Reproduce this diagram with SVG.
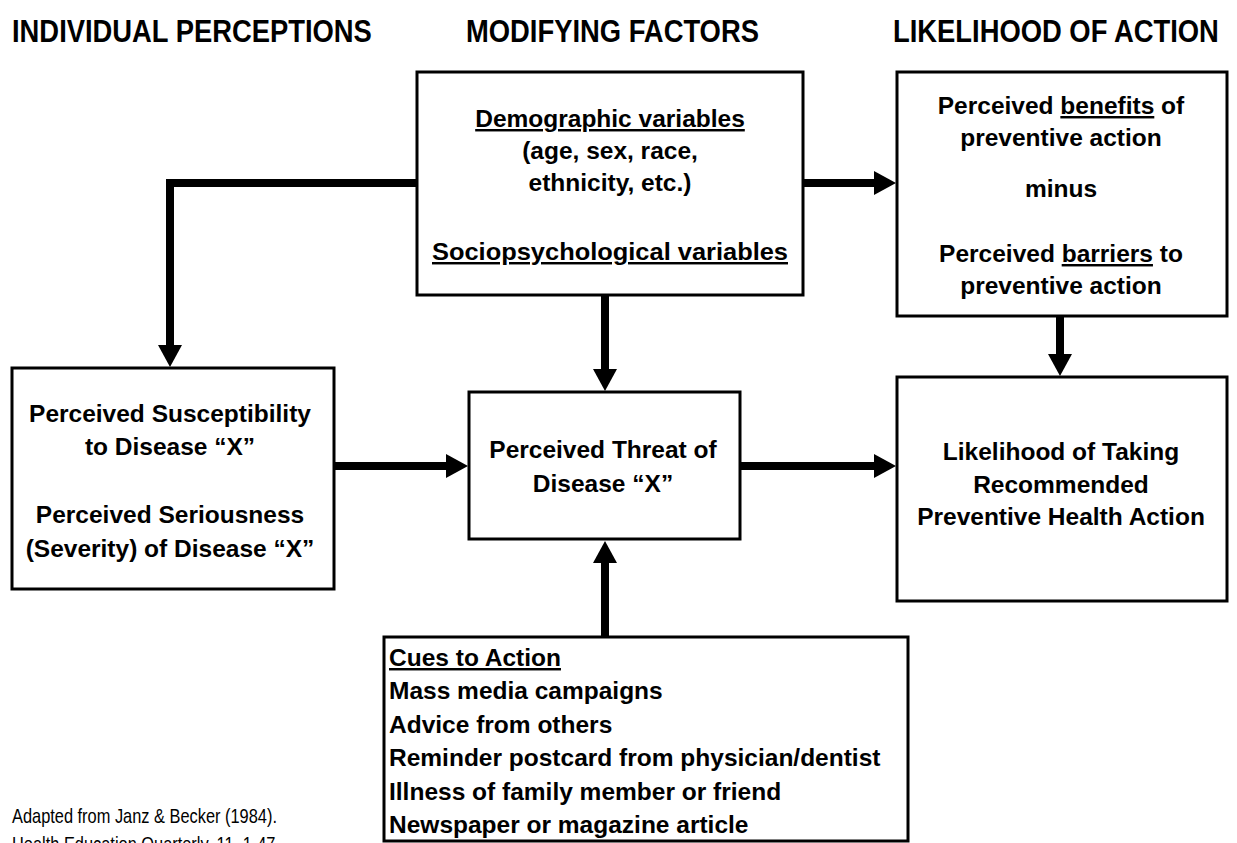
<svg xmlns="http://www.w3.org/2000/svg" width="1237" height="843" viewBox="0 0 1237 843">
<style>
.bg{fill:#fff}
.box{fill:#fff;stroke:#000;stroke-width:3}
.h{font-family:"Liberation Sans",Arial,sans-serif;font-weight:bold;font-size:31px;fill:#000}
.t{font-family:"Liberation Sans",Arial,sans-serif;font-weight:bold;font-size:24.5px;fill:#000;text-anchor:middle}
.l{font-family:"Liberation Sans",Arial,sans-serif;font-weight:bold;font-size:24.5px;fill:#000}
.u{text-decoration:underline}
.f{font-family:"Liberation Sans",Arial,sans-serif;font-size:20px;fill:#000}
.c{fill:none;stroke:#000;stroke-width:8;stroke-linejoin:miter}
</style>
<defs>
<marker id="ah" markerUnits="userSpaceOnUse" markerWidth="22" markerHeight="24" refX="1" refY="12" orient="auto">
<path d="M0,0 L22,12 L0,24 Z" fill="#000"/>
</marker>
</defs>
<rect class="bg" x="0" y="0" width="1237" height="843"/>
<g id="headings">
<text class="h" transform="translate(12,42) scale(0.883,1)">INDIVIDUAL PERCEPTIONS</text>
<text class="h" transform="translate(466,42) scale(0.883,1)">MODIFYING FACTORS</text>
<text class="h" transform="translate(893,42) scale(0.883,1)">LIKELIHOOD OF ACTION</text>
</g>
<g id="connectors">
<path class="c" d="M417,183 H170 V346" marker-end="url(#ah)"/>
<path class="c" d="M803,183 H875" marker-end="url(#ah)"/>
<path class="c" d="M605,295 V370" marker-end="url(#ah)"/>
<path class="c" d="M334,466 H447" marker-end="url(#ah)"/>
<path class="c" d="M740,466 H875" marker-end="url(#ah)"/>
<path class="c" d="M1060,316 V355" marker-end="url(#ah)"/>
<path class="c" d="M605,637 V562" marker-end="url(#ah)"/>
</g>
<g id="modifying">
<rect class="box" x="417" y="72" width="386" height="223"/>
<text class="t u" x="610" y="127">Demographic variables</text>
<text class="t" x="610" y="159">(age, sex, race,</text>
<text class="t" x="610" y="191">ethnicity, etc.)</text>
<text class="t u" x="610" y="260" textLength="356" lengthAdjust="spacingAndGlyphs">Sociopsychological variables</text>
</g>
<g id="benefits">
<rect class="box" x="897" y="72" width="330" height="244"/>
<text class="t" x="1061" y="114">Perceived <tspan class="u">benefits</tspan> of</text>
<text class="t" x="1061" y="146">preventive action</text>
<text class="t" x="1061" y="197">minus</text>
<text class="t" x="1061" y="262">Perceived <tspan class="u">barriers</tspan> to</text>
<text class="t" x="1061" y="294">preventive action</text>
</g>
<g id="perceptions">
<rect class="box" x="12" y="368" width="322" height="221"/>
<text class="t" x="170" y="422">Perceived Susceptibility</text>
<text class="t" x="170" y="455">to Disease “X”</text>
<text class="t" x="170" y="523">Perceived Seriousness</text>
<text class="t" x="170" y="557">(Severity) of Disease “X”</text>
</g>
<g id="threat">
<rect class="box" x="469" y="392" width="271" height="147"/>
<text class="t" x="603" y="458">Perceived Threat of</text>
<text class="t" x="603" y="492">Disease “X”</text>
</g>
<g id="likelihood">
<rect class="box" x="897" y="377" width="330" height="224"/>
<text class="t" x="1061" y="460">Likelihood of Taking</text>
<text class="t" x="1061" y="493">Recommended</text>
<text class="t" x="1061" y="525">Preventive Health Action</text>
</g>
<g id="cues">
<rect class="box" x="384" y="637" width="524" height="204"/>
<text class="l u" x="389" y="666">Cues to Action</text>
<text class="l" x="389" y="699">Mass media campaigns</text>
<text class="l" x="389" y="733">Advice from others</text>
<text class="l" x="389" y="766">Reminder postcard from physician/dentist</text>
<text class="l" x="389" y="800">Illness of family member or friend</text>
<text class="l" x="389" y="833">Newspaper or magazine article</text>
</g>
<g id="source">
<text class="f" transform="translate(12,823) scale(0.82,1)">Adapted from Janz &amp; Becker (1984).</text>
<text class="f" transform="translate(12,851) scale(0.82,1)">Health Education Quarterly, 11, 1-47</text>
</g>
</svg>
